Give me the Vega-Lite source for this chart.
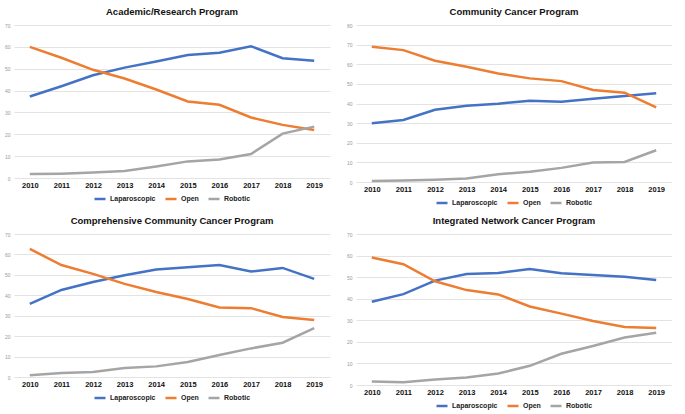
{
  "$schema": "https://vega.github.io/schema/vega-lite/v6.json",
  "background": "white",
  "padding": {"left": 4, "top": 6, "right": 0, "bottom": 0},
  "spacing": 7,
  "config": {
    "font": "Liberation Sans",
    "view": {"stroke": null},
    "concat": {"spacing": 16},
    "title": {"font": "Liberation Sans", "fontSize": 9.5, "fontWeight": "bold", "color": "#111", "offset": 7},
    "axisY": {"domain": false, "ticks": false, "labelFontSize": 5, "labelColor": "#999", "labelPadding": 4, "gridColor": "#e3e3e3", "title": null},
    "axisX": {"domain": false, "ticks": false, "grid": false, "labelFontSize": 7.5, "labelFontWeight": "bold", "labelColor": "#111", "labelPadding": 3, "labelAngle": 0, "title": null},
    "legend": {"orient": "bottom", "direction": "horizontal", "title": null, "symbolType": "stroke", "symbolSize": 121, "symbolStrokeWidth": 2.5, "labelFontSize": 7, "labelFontWeight": "bold", "labelColor": "#222", "columnPadding": 4, "symbolOffset": 0, "labelOffset": 3, "offset": 3, "padding": 0, "layout": {"bottom": {"anchor": "middle"}}},
    "line": {"strokeWidth": 2.5}
  },
  "datasets": {
    "d": [
      {"program": "Academic/Research Program", "year": "2010", "method": "Laparoscopic", "value": 37.3},
      {"program": "Academic/Research Program", "year": "2011", "method": "Laparoscopic", "value": 42.0},
      {"program": "Academic/Research Program", "year": "2012", "method": "Laparoscopic", "value": 47.0},
      {"program": "Academic/Research Program", "year": "2013", "method": "Laparoscopic", "value": 50.5},
      {"program": "Academic/Research Program", "year": "2014", "method": "Laparoscopic", "value": 53.3},
      {"program": "Academic/Research Program", "year": "2015", "method": "Laparoscopic", "value": 56.3},
      {"program": "Academic/Research Program", "year": "2016", "method": "Laparoscopic", "value": 57.3},
      {"program": "Academic/Research Program", "year": "2017", "method": "Laparoscopic", "value": 60.3},
      {"program": "Academic/Research Program", "year": "2018", "method": "Laparoscopic", "value": 54.8},
      {"program": "Academic/Research Program", "year": "2019", "method": "Laparoscopic", "value": 53.6},
      {"program": "Academic/Research Program", "year": "2010", "method": "Open", "value": 60.0},
      {"program": "Academic/Research Program", "year": "2011", "method": "Open", "value": 55.0},
      {"program": "Academic/Research Program", "year": "2012", "method": "Open", "value": 49.5},
      {"program": "Academic/Research Program", "year": "2013", "method": "Open", "value": 45.5},
      {"program": "Academic/Research Program", "year": "2014", "method": "Open", "value": 40.5},
      {"program": "Academic/Research Program", "year": "2015", "method": "Open", "value": 35.0},
      {"program": "Academic/Research Program", "year": "2016", "method": "Open", "value": 33.5},
      {"program": "Academic/Research Program", "year": "2017", "method": "Open", "value": 27.7},
      {"program": "Academic/Research Program", "year": "2018", "method": "Open", "value": 24.3},
      {"program": "Academic/Research Program", "year": "2019", "method": "Open", "value": 22.0},
      {"program": "Academic/Research Program", "year": "2010", "method": "Robotic", "value": 1.8},
      {"program": "Academic/Research Program", "year": "2011", "method": "Robotic", "value": 2.0},
      {"program": "Academic/Research Program", "year": "2012", "method": "Robotic", "value": 2.5},
      {"program": "Academic/Research Program", "year": "2013", "method": "Robotic", "value": 3.2},
      {"program": "Academic/Research Program", "year": "2014", "method": "Robotic", "value": 5.3},
      {"program": "Academic/Research Program", "year": "2015", "method": "Robotic", "value": 7.6},
      {"program": "Academic/Research Program", "year": "2016", "method": "Robotic", "value": 8.5},
      {"program": "Academic/Research Program", "year": "2017", "method": "Robotic", "value": 11.0},
      {"program": "Academic/Research Program", "year": "2018", "method": "Robotic", "value": 20.3},
      {"program": "Academic/Research Program", "year": "2019", "method": "Robotic", "value": 23.5},
      {"program": "Community Cancer Program", "year": "2010", "method": "Laparoscopic", "value": 29.9},
      {"program": "Community Cancer Program", "year": "2011", "method": "Laparoscopic", "value": 31.6},
      {"program": "Community Cancer Program", "year": "2012", "method": "Laparoscopic", "value": 36.8},
      {"program": "Community Cancer Program", "year": "2013", "method": "Laparoscopic", "value": 38.9},
      {"program": "Community Cancer Program", "year": "2014", "method": "Laparoscopic", "value": 39.9},
      {"program": "Community Cancer Program", "year": "2015", "method": "Laparoscopic", "value": 41.4},
      {"program": "Community Cancer Program", "year": "2016", "method": "Laparoscopic", "value": 40.9},
      {"program": "Community Cancer Program", "year": "2017", "method": "Laparoscopic", "value": 42.4},
      {"program": "Community Cancer Program", "year": "2018", "method": "Laparoscopic", "value": 43.8},
      {"program": "Community Cancer Program", "year": "2019", "method": "Laparoscopic", "value": 45.2},
      {"program": "Community Cancer Program", "year": "2010", "method": "Open", "value": 68.9},
      {"program": "Community Cancer Program", "year": "2011", "method": "Open", "value": 67.2},
      {"program": "Community Cancer Program", "year": "2012", "method": "Open", "value": 61.8},
      {"program": "Community Cancer Program", "year": "2013", "method": "Open", "value": 58.7},
      {"program": "Community Cancer Program", "year": "2014", "method": "Open", "value": 55.3},
      {"program": "Community Cancer Program", "year": "2015", "method": "Open", "value": 52.8},
      {"program": "Community Cancer Program", "year": "2016", "method": "Open", "value": 51.4},
      {"program": "Community Cancer Program", "year": "2017", "method": "Open", "value": 46.9},
      {"program": "Community Cancer Program", "year": "2018", "method": "Open", "value": 45.5},
      {"program": "Community Cancer Program", "year": "2019", "method": "Open", "value": 38.0},
      {"program": "Community Cancer Program", "year": "2010", "method": "Robotic", "value": 0.5},
      {"program": "Community Cancer Program", "year": "2011", "method": "Robotic", "value": 0.8},
      {"program": "Community Cancer Program", "year": "2012", "method": "Robotic", "value": 1.2},
      {"program": "Community Cancer Program", "year": "2013", "method": "Robotic", "value": 1.8},
      {"program": "Community Cancer Program", "year": "2014", "method": "Robotic", "value": 4.0},
      {"program": "Community Cancer Program", "year": "2015", "method": "Robotic", "value": 5.2},
      {"program": "Community Cancer Program", "year": "2016", "method": "Robotic", "value": 7.2},
      {"program": "Community Cancer Program", "year": "2017", "method": "Robotic", "value": 9.9},
      {"program": "Community Cancer Program", "year": "2018", "method": "Robotic", "value": 10.2},
      {"program": "Community Cancer Program", "year": "2019", "method": "Robotic", "value": 16.2},
      {"program": "Comprehensive Community Cancer Program", "year": "2010", "method": "Laparoscopic", "value": 35.8},
      {"program": "Comprehensive Community Cancer Program", "year": "2011", "method": "Laparoscopic", "value": 42.6},
      {"program": "Comprehensive Community Cancer Program", "year": "2012", "method": "Laparoscopic", "value": 46.5},
      {"program": "Comprehensive Community Cancer Program", "year": "2013", "method": "Laparoscopic", "value": 49.8},
      {"program": "Comprehensive Community Cancer Program", "year": "2014", "method": "Laparoscopic", "value": 52.6},
      {"program": "Comprehensive Community Cancer Program", "year": "2015", "method": "Laparoscopic", "value": 53.7},
      {"program": "Comprehensive Community Cancer Program", "year": "2016", "method": "Laparoscopic", "value": 54.8},
      {"program": "Comprehensive Community Cancer Program", "year": "2017", "method": "Laparoscopic", "value": 51.6},
      {"program": "Comprehensive Community Cancer Program", "year": "2018", "method": "Laparoscopic", "value": 53.4},
      {"program": "Comprehensive Community Cancer Program", "year": "2019", "method": "Laparoscopic", "value": 48.0},
      {"program": "Comprehensive Community Cancer Program", "year": "2010", "method": "Open", "value": 62.7},
      {"program": "Comprehensive Community Cancer Program", "year": "2011", "method": "Open", "value": 54.8},
      {"program": "Comprehensive Community Cancer Program", "year": "2012", "method": "Open", "value": 50.5},
      {"program": "Comprehensive Community Cancer Program", "year": "2013", "method": "Open", "value": 45.6},
      {"program": "Comprehensive Community Cancer Program", "year": "2014", "method": "Open", "value": 41.6},
      {"program": "Comprehensive Community Cancer Program", "year": "2015", "method": "Open", "value": 38.2},
      {"program": "Comprehensive Community Cancer Program", "year": "2016", "method": "Open", "value": 34.0},
      {"program": "Comprehensive Community Cancer Program", "year": "2017", "method": "Open", "value": 33.7},
      {"program": "Comprehensive Community Cancer Program", "year": "2018", "method": "Open", "value": 29.4},
      {"program": "Comprehensive Community Cancer Program", "year": "2019", "method": "Open", "value": 27.9},
      {"program": "Comprehensive Community Cancer Program", "year": "2010", "method": "Robotic", "value": 0.8},
      {"program": "Comprehensive Community Cancer Program", "year": "2011", "method": "Robotic", "value": 1.9},
      {"program": "Comprehensive Community Cancer Program", "year": "2012", "method": "Robotic", "value": 2.4},
      {"program": "Comprehensive Community Cancer Program", "year": "2013", "method": "Robotic", "value": 4.4},
      {"program": "Comprehensive Community Cancer Program", "year": "2014", "method": "Robotic", "value": 5.2},
      {"program": "Comprehensive Community Cancer Program", "year": "2015", "method": "Robotic", "value": 7.3},
      {"program": "Comprehensive Community Cancer Program", "year": "2016", "method": "Robotic", "value": 10.8},
      {"program": "Comprehensive Community Cancer Program", "year": "2017", "method": "Robotic", "value": 14.0},
      {"program": "Comprehensive Community Cancer Program", "year": "2018", "method": "Robotic", "value": 16.8},
      {"program": "Comprehensive Community Cancer Program", "year": "2019", "method": "Robotic", "value": 23.9},
      {"program": "Integrated Network Cancer Program", "year": "2010", "method": "Laparoscopic", "value": 38.6},
      {"program": "Integrated Network Cancer Program", "year": "2011", "method": "Laparoscopic", "value": 42.1},
      {"program": "Integrated Network Cancer Program", "year": "2012", "method": "Laparoscopic", "value": 48.4},
      {"program": "Integrated Network Cancer Program", "year": "2013", "method": "Laparoscopic", "value": 51.5},
      {"program": "Integrated Network Cancer Program", "year": "2014", "method": "Laparoscopic", "value": 51.9},
      {"program": "Integrated Network Cancer Program", "year": "2015", "method": "Laparoscopic", "value": 53.8},
      {"program": "Integrated Network Cancer Program", "year": "2016", "method": "Laparoscopic", "value": 51.8},
      {"program": "Integrated Network Cancer Program", "year": "2017", "method": "Laparoscopic", "value": 51.0},
      {"program": "Integrated Network Cancer Program", "year": "2018", "method": "Laparoscopic", "value": 50.2},
      {"program": "Integrated Network Cancer Program", "year": "2019", "method": "Laparoscopic", "value": 48.7},
      {"program": "Integrated Network Cancer Program", "year": "2010", "method": "Open", "value": 59.1},
      {"program": "Integrated Network Cancer Program", "year": "2011", "method": "Open", "value": 56.0},
      {"program": "Integrated Network Cancer Program", "year": "2012", "method": "Open", "value": 48.1},
      {"program": "Integrated Network Cancer Program", "year": "2013", "method": "Open", "value": 44.0},
      {"program": "Integrated Network Cancer Program", "year": "2014", "method": "Open", "value": 42.0},
      {"program": "Integrated Network Cancer Program", "year": "2015", "method": "Open", "value": 36.4},
      {"program": "Integrated Network Cancer Program", "year": "2016", "method": "Open", "value": 33.1},
      {"program": "Integrated Network Cancer Program", "year": "2017", "method": "Open", "value": 29.7},
      {"program": "Integrated Network Cancer Program", "year": "2018", "method": "Open", "value": 26.9},
      {"program": "Integrated Network Cancer Program", "year": "2019", "method": "Open", "value": 26.4},
      {"program": "Integrated Network Cancer Program", "year": "2010", "method": "Robotic", "value": 1.6},
      {"program": "Integrated Network Cancer Program", "year": "2011", "method": "Robotic", "value": 1.3},
      {"program": "Integrated Network Cancer Program", "year": "2012", "method": "Robotic", "value": 2.5},
      {"program": "Integrated Network Cancer Program", "year": "2013", "method": "Robotic", "value": 3.5},
      {"program": "Integrated Network Cancer Program", "year": "2014", "method": "Robotic", "value": 5.3},
      {"program": "Integrated Network Cancer Program", "year": "2015", "method": "Robotic", "value": 8.9},
      {"program": "Integrated Network Cancer Program", "year": "2016", "method": "Robotic", "value": 14.5},
      {"program": "Integrated Network Cancer Program", "year": "2017", "method": "Robotic", "value": 18.1},
      {"program": "Integrated Network Cancer Program", "year": "2018", "method": "Robotic", "value": 22.0},
      {"program": "Integrated Network Cancer Program", "year": "2019", "method": "Robotic", "value": 24.2}
    ]
  },
  "vconcat": [
    {
      "hconcat": [
        {
          "title": "Academic/Research Program",
          "width": 316, "height": 153,
          "data": {"name": "d"},
          "transform": [{"filter": "datum.program === 'Academic/Research Program'"}],
          "mark": {"type": "line", "strokeWidth": 2.5},
          "encoding": {
            "x": {"field": "year", "type": "ordinal", "scale": {"type": "point", "padding": 0.5}},
            "y": {"field": "value", "type": "quantitative", "scale": {"domain": [0, 70]}, "axis": {"values": [0, 10, 20, 30, 40, 50, 60, 70]}},
            "color": {"field": "method", "type": "nominal", "scale": {"domain": ["Laparoscopic", "Open", "Robotic"], "range": ["#4472C4", "#ED7D31", "#A5A5A5"]}}
          }
        },
        {
          "title": "Community Cancer Program",
          "width": 316, "height": 157,
          "data": {"name": "d"},
          "transform": [{"filter": "datum.program === 'Community Cancer Program'"}],
          "mark": {"type": "line", "strokeWidth": 2.5},
          "encoding": {
            "x": {"field": "year", "type": "ordinal", "scale": {"type": "point", "padding": 0.5}},
            "y": {"field": "value", "type": "quantitative", "scale": {"domain": [0, 80]}, "axis": {"values": [0, 10, 20, 30, 40, 50, 60, 70, 80]}},
            "color": {"field": "method", "type": "nominal", "scale": {"domain": ["Laparoscopic", "Open", "Robotic"], "range": ["#4472C4", "#ED7D31", "#A5A5A5"]}}
          }
        }
      ],
      "resolve": {"scale": {"y": "independent", "color": "independent"}, "legend": {"color": "independent"}}
    },
    {
      "hconcat": [
        {
          "title": "Comprehensive Community Cancer Program",
          "width": 316, "height": 143,
          "data": {"name": "d"},
          "transform": [{"filter": "datum.program === 'Comprehensive Community Cancer Program'"}],
          "mark": {"type": "line", "strokeWidth": 2.5},
          "encoding": {
            "x": {"field": "year", "type": "ordinal", "scale": {"type": "point", "padding": 0.5}},
            "y": {"field": "value", "type": "quantitative", "scale": {"domain": [0, 70]}, "axis": {"values": [0, 10, 20, 30, 40, 50, 60, 70]}},
            "color": {"field": "method", "type": "nominal", "scale": {"domain": ["Laparoscopic", "Open", "Robotic"], "range": ["#4472C4", "#ED7D31", "#A5A5A5"]}}
          }
        },
        {
          "title": "Integrated Network Cancer Program",
          "width": 316, "height": 151,
          "data": {"name": "d"},
          "transform": [{"filter": "datum.program === 'Integrated Network Cancer Program'"}],
          "mark": {"type": "line", "strokeWidth": 2.5},
          "encoding": {
            "x": {"field": "year", "type": "ordinal", "scale": {"type": "point", "padding": 0.5}},
            "y": {"field": "value", "type": "quantitative", "scale": {"domain": [0, 70]}, "axis": {"values": [0, 10, 20, 30, 40, 50, 60, 70]}},
            "color": {"field": "method", "type": "nominal", "scale": {"domain": ["Laparoscopic", "Open", "Robotic"], "range": ["#4472C4", "#ED7D31", "#A5A5A5"]}}
          }
        }
      ],
      "resolve": {"scale": {"y": "independent", "color": "independent"}, "legend": {"color": "independent"}}
    }
  ]
}
